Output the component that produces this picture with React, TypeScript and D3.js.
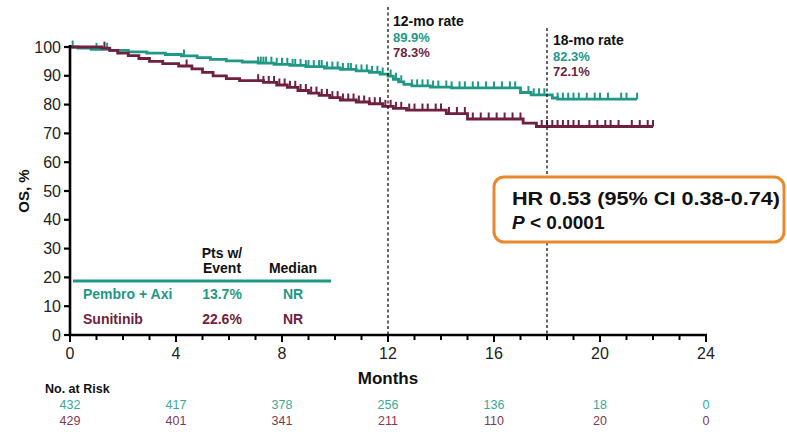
import React from "react";
import * as d3 from "d3";

const xTicks = [0, 4, 8, 12, 16, 20, 24];
const yTicks = [0, 10, 20, 30, 40, 50, 60, 70, 80, 90, 100];

// Pembro + Axi KM steps
const pembroTimes = [0, 0.3, 0.8, 1.5, 2.2, 2.9, 3.6, 4.2, 4.8, 5.3, 5.9, 6.5, 7.1, 7.7, 8.3, 8.9, 9.6, 10.2, 10.8, 11.3, 11.7, 12.0, 12.2, 12.4, 12.6, 12.9, 13.6, 14.4, 17.0, 17.4, 18.2, 18.4, 21.4];
const pembroSurv = [100, 99.6, 99.2, 98.8, 98.3, 97.9, 97.4, 96.9, 96.3, 95.7, 95.2, 94.8, 94.4, 94.0, 93.6, 93.2, 92.7, 92.2, 91.7, 91.2, 90.6, 89.9, 88.8, 87.9, 87.0, 86.5, 86.1, 85.8, 84.2, 83.4, 82.3, 81.9, 81.9];
const pembroCensor = [0.1, 1.0, 1.4, 4.3, 7.1, 7.2, 7.3, 7.4, 7.6, 7.8, 8.0, 8.2, 8.4, 8.5, 8.7, 8.9, 9.0, 9.2, 9.4, 9.5, 9.7, 9.9, 10.1, 10.3, 10.5, 10.6, 10.8, 11.0, 11.2, 11.4, 11.6, 11.8, 12.1, 12.3, 12.5, 12.9, 13.1, 13.3, 13.5, 13.7, 13.9, 14.2, 14.4, 14.7, 14.9, 15.2, 15.4, 15.7, 16.0, 16.3, 16.6, 16.8, 17.3, 17.5, 17.7, 17.9, 18.4, 18.6, 18.8, 19.0, 19.2, 19.5, 19.8, 20.0, 20.3, 20.8, 21.0, 21.4];

// Sunitinib KM steps
const sunitTimes = [0, 1.2, 1.5, 1.8, 2.2, 2.6, 3.0, 3.5, 4.1, 4.6, 5.0, 5.4, 5.9, 6.4, 7.3, 7.8, 8.2, 8.6, 9.0, 9.4, 9.8, 10.2, 10.8, 11.3, 11.8, 12.2, 12.7, 14.2, 15.0, 17.1, 17.6, 22.0];
const sunitSurv = [100, 99.6, 98.8, 97.9, 97.0, 96.0, 95.0, 94.2, 93.4, 92.4, 91.2, 90.0, 89.0, 88.3, 87.7, 86.8, 86.0, 84.9, 84.0, 83.2, 82.4, 81.6, 80.9, 80.3, 79.4, 78.7, 78.1, 76.9, 75.0, 73.6, 72.4, 72.4];
const sunitCensor = [1.3, 4.4, 7.1, 7.3, 7.5, 7.7, 7.9, 8.1, 8.3, 8.5, 8.7, 8.9, 9.1, 9.3, 9.5, 9.7, 9.9, 10.1, 10.3, 10.5, 10.7, 10.9, 11.1, 11.3, 11.5, 11.7, 11.9, 12.1, 12.3, 12.5, 12.8, 13.0, 13.3, 13.5, 13.8, 14.0, 14.3, 14.6, 14.9, 15.2, 15.5, 15.8, 16.1, 16.4, 16.7, 17.0, 17.8, 18.0, 18.2, 18.4, 18.6, 18.8, 19.0, 19.2, 19.6, 19.9, 20.2, 20.4, 20.7, 21.2, 21.5, 21.8, 22.0];

const pembroAtRisk = [432, 417, 378, 256, 136, 18, 0];
const sunitAtRisk = [429, 401, 341, 211, 110, 20, 0];

const TEAL = "#1f9885";
const MAROON = "#6f1f3f";
const TEAL_L = "#3aa896";
const MAROON_L = "#7d3a55";
const FONT = "Liberation Sans, Arial, sans-serif";

const x = d3.scaleLinear().domain([0, 24]).range([70, 706]);
const y = d3.scaleLinear().domain([0, 100]).range([335, 47]);

function survAt(times: number[], surv: number[], t: number) {
  const i = d3.bisectRight(times, t) - 1;
  return surv[Math.max(0, i)];
}

const line = d3
  .line<[number, number]>()
  .x((d) => x(d[0]))
  .y((d) => y(d[1]))
  .curve(d3.curveStepAfter);

function Curve({ times, surv, censor, color }: { times: number[]; surv: number[]; censor: number[]; color: string }) {
  const pts: [number, number][] = times.map((t, i) => [t, surv[i]]);
  return (
    <g>
      <path d={line(pts) || ""} fill="none" stroke={color} strokeWidth={2.8} />
      {censor.map((t, i) => {
        const v = survAt(times, surv, t);
        return <line key={i} x1={x(t)} x2={x(t)} y1={y(v)} y2={y(v) - 6.5} stroke={color} strokeWidth={2} />;
      })}
    </g>
  );
}

export default function App() {
  const minor = d3.range(0, 25);
  return (
    <svg width={787} height={432} style={{ position: "absolute", left: 0, top: 0, background: "#fff" }} fontFamily={FONT}>
      {/* curves */}
      <Curve times={pembroTimes} surv={pembroSurv} censor={pembroCensor} color={TEAL} />
      <Curve times={sunitTimes} surv={sunitSurv} censor={sunitCensor} color={MAROON} />

      {/* dashed lines */}
      <line x1={x(12)} x2={x(12)} y1={7} y2={y(0)} stroke="#111" strokeWidth={1.3} strokeDasharray="3,2.5" />
      <line x1={x(18)} x2={x(18)} y1={28} y2={y(0)} stroke="#111" strokeWidth={1.3} strokeDasharray="3,2.5" />

      {/* axes */}
      <line x1={x(0)} x2={x(0)} y1={y(100) - 2} y2={y(0) + 1} stroke="#000" strokeWidth={2.6} />
      <line x1={x(0) - 1} x2={x(24) + 1} y1={y(0)} y2={y(0)} stroke="#000" strokeWidth={2.6} />
      {yTicks.map((v) => (
        <g key={v}>
          <line x1={x(0) - 6} x2={x(0)} y1={y(v)} y2={y(v)} stroke="#000" strokeWidth={2.2} />
          <text x={61} y={y(v)} dy="0.35em" textAnchor="end" fontSize={16} fill="#222">
            {v}
          </text>
        </g>
      ))}
      {minor.map((m) => (
        <line key={m} x1={x(m)} x2={x(m)} y1={y(0)} y2={y(0) + (m % 4 === 0 ? 7 : 5)} stroke="#000" strokeWidth={2} />
      ))}
      {xTicks.map((m) => (
        <text key={m} x={x(m)} y={353} dy="0.35em" textAnchor="middle" fontSize={16} fill="#222">
          {m}
        </text>
      ))}
      <text x={x(12)} y={378} dy="0.35em" textAnchor="middle" fontSize={17} fontWeight="bold" fill="#111">
        Months
      </text>
      <text transform={`translate(24,${y(50)}) rotate(-90)`} textAnchor="middle" dy="0.35em" fontSize={15} fontWeight="bold" fill="#111">
        OS, %
      </text>

      {/* rate labels */}
      <g fontWeight="bold" fontSize={13}>
        <text x={393} y={21} dy="0.35em" fill="#111" fontSize={14}>12-mo rate</text>
        <text x={393} y={37.5} dy="0.35em" fill={TEAL}>89.9%</text>
        <text x={393} y={52} dy="0.35em" fill={MAROON}>78.3%</text>
        <text x={553} y={40} dy="0.35em" fill="#111" fontSize={14}>18-mo rate</text>
        <text x={553} y={56.5} dy="0.35em" fill={TEAL}>82.3%</text>
        <text x={553} y={71} dy="0.35em" fill={MAROON}>72.1%</text>
      </g>

      {/* legend table */}
      <g fontWeight="bold" fontSize={14}>
        <text x={222} y={253} dy="0.35em" textAnchor="middle" fill="#111">Pts w/</text>
        <text x={222} y={268} dy="0.35em" textAnchor="middle" fill="#111">Event</text>
        <text x={293} y={268} dy="0.35em" textAnchor="middle" fill="#111">Median</text>
        <line x1={73} x2={331} y1={281} y2={281} stroke={TEAL} strokeWidth={3} />
        <text x={83} y={294} dy="0.35em" fill={TEAL}>Pembro + Axi</text>
        <text x={222} y={294} dy="0.35em" textAnchor="middle" fill={TEAL}>13.7%</text>
        <text x={293} y={294} dy="0.35em" textAnchor="middle" fill={TEAL}>NR</text>
        <text x={83} y={319} dy="0.35em" fill={MAROON}>Sunitinib</text>
        <text x={222} y={319} dy="0.35em" textAnchor="middle" fill={MAROON}>22.6%</text>
        <text x={293} y={319} dy="0.35em" textAnchor="middle" fill={MAROON}>NR</text>
      </g>

      {/* HR box */}
      <rect x={494} y={177} width={290} height={65} rx={10} fill="#fff" stroke="#e8892c" strokeWidth={3} />
      <text x={512} y={205} fontSize={19} fontWeight="bold" fill="#111" textLength={268} lengthAdjust="spacingAndGlyphs">
        HR 0.53 (95% CI 0.38-0.74)
      </text>
      <text x={512} y={229} fontSize={19} fontWeight="bold" fill="#111">
        <tspan fontStyle="italic">P</tspan> &lt; 0.0001
      </text>

      {/* at risk */}
      <text x={45} y={389} dy="0.35em" fontSize={12.5} fontWeight="bold" fill="#111">No. at Risk</text>
      {xTicks.map((m, i) => (
        <g key={m}>
          <text x={x(m)} y={405} dy="0.35em" textAnchor="middle" fontSize={12.5} fill={TEAL_L}>{pembroAtRisk[i]}</text>
          <text x={x(m)} y={421} dy="0.35em" textAnchor="middle" fontSize={12.5} fill={MAROON_L}>{sunitAtRisk[i]}</text>
        </g>
      ))}
    </svg>
  );
}
